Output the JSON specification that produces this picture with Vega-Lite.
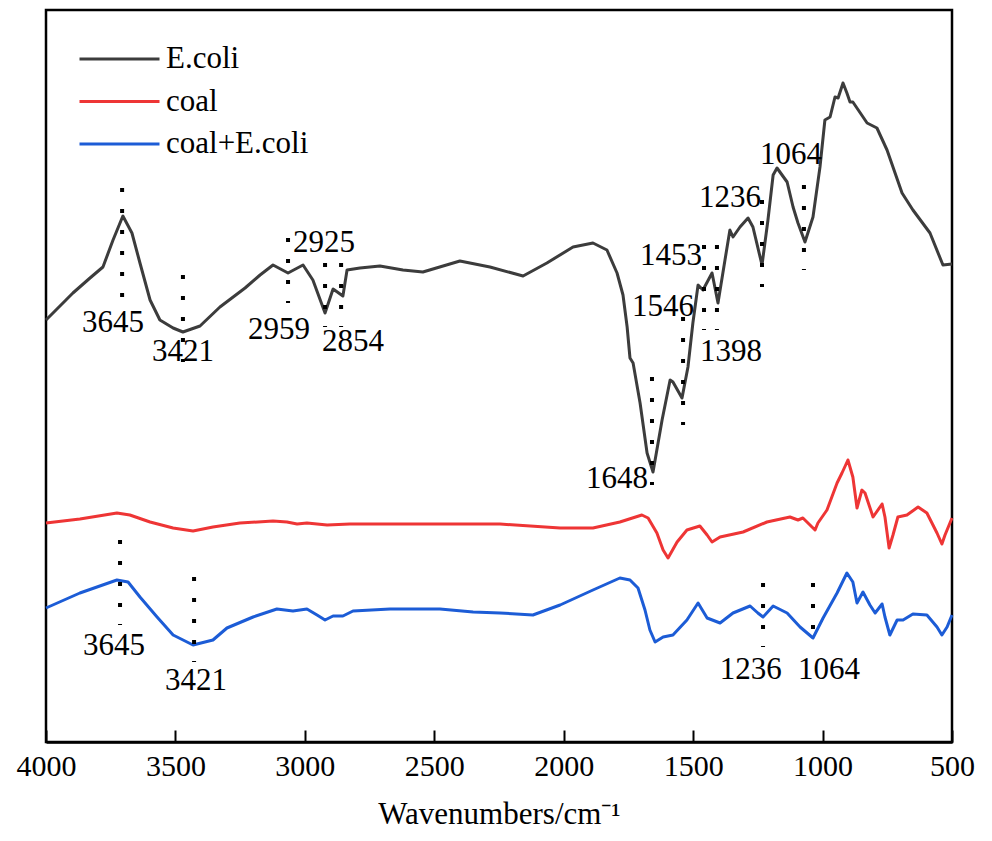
{
  "$schema": "https://vega.github.io/schema/vega-lite/v6.json",
  "width": 906,
  "height": 732,
  "autosize": {"type": "none"},
  "padding": {"left": 46, "top": 10, "right": 40, "bottom": 99},
  "background": "white",
  "config": {
    "view": {"stroke": "black", "strokeWidth": 2.5},
    "font": "Liberation Serif"
  },
  "datasets": {
    "spectra": [
      {"w": 4000, "a": 4.22, "s": "E.coli"},
      {"w": 3896, "a": 4.49, "s": "E.coli"},
      {"w": 3830, "a": 4.64, "s": "E.coli"},
      {"w": 3780, "a": 4.75, "s": "E.coli"},
      {"w": 3741, "a": 5.02, "s": "E.coli"},
      {"w": 3703, "a": 5.26, "s": "E.coli"},
      {"w": 3668, "a": 5.09, "s": "E.coli"},
      {"w": 3637, "a": 4.79, "s": "E.coli"},
      {"w": 3598, "a": 4.42, "s": "E.coli"},
      {"w": 3560, "a": 4.22, "s": "E.coli"},
      {"w": 3509, "a": 4.14, "s": "E.coli"},
      {"w": 3471, "a": 4.10, "s": "E.coli"},
      {"w": 3405, "a": 4.16, "s": "E.coli"},
      {"w": 3328, "a": 4.35, "s": "E.coli"},
      {"w": 3231, "a": 4.54, "s": "E.coli"},
      {"w": 3173, "a": 4.67, "s": "E.coli"},
      {"w": 3123, "a": 4.77, "s": "E.coli"},
      {"w": 3065, "a": 4.69, "s": "E.coli"},
      {"w": 3007, "a": 4.77, "s": "E.coli"},
      {"w": 2969, "a": 4.62, "s": "E.coli"},
      {"w": 2922, "a": 4.29, "s": "E.coli"},
      {"w": 2891, "a": 4.53, "s": "E.coli"},
      {"w": 2853, "a": 4.46, "s": "E.coli"},
      {"w": 2837, "a": 4.72, "s": "E.coli"},
      {"w": 2787, "a": 4.74, "s": "E.coli"},
      {"w": 2710, "a": 4.76, "s": "E.coli"},
      {"w": 2621, "a": 4.72, "s": "E.coli"},
      {"w": 2544, "a": 4.70, "s": "E.coli"},
      {"w": 2401, "a": 4.81, "s": "E.coli"},
      {"w": 2285, "a": 4.75, "s": "E.coli"},
      {"w": 2157, "a": 4.66, "s": "E.coli"},
      {"w": 2065, "a": 4.79, "s": "E.coli"},
      {"w": 1964, "a": 4.95, "s": "E.coli"},
      {"w": 1887, "a": 4.99, "s": "E.coli"},
      {"w": 1833, "a": 4.92, "s": "E.coli"},
      {"w": 1794, "a": 4.69, "s": "E.coli"},
      {"w": 1771, "a": 4.47, "s": "E.coli"},
      {"w": 1755, "a": 4.15, "s": "E.coli"},
      {"w": 1744, "a": 3.84, "s": "E.coli"},
      {"w": 1732, "a": 3.79, "s": "E.coli"},
      {"w": 1705, "a": 3.39, "s": "E.coli"},
      {"w": 1678, "a": 2.89, "s": "E.coli"},
      {"w": 1655, "a": 2.70, "s": "E.coli"},
      {"w": 1620, "a": 3.22, "s": "E.coli"},
      {"w": 1589, "a": 3.62, "s": "E.coli"},
      {"w": 1578, "a": 3.60, "s": "E.coli"},
      {"w": 1543, "a": 3.44, "s": "E.coli"},
      {"w": 1520, "a": 3.75, "s": "E.coli"},
      {"w": 1501, "a": 4.19, "s": "E.coli"},
      {"w": 1481, "a": 4.57, "s": "E.coli"},
      {"w": 1462, "a": 4.52, "s": "E.coli"},
      {"w": 1427, "a": 4.69, "s": "E.coli"},
      {"w": 1404, "a": 4.39, "s": "E.coli"},
      {"w": 1377, "a": 4.82, "s": "E.coli"},
      {"w": 1358, "a": 5.12, "s": "E.coli"},
      {"w": 1346, "a": 5.05, "s": "E.coli"},
      {"w": 1319, "a": 5.15, "s": "E.coli"},
      {"w": 1288, "a": 5.24, "s": "E.coli"},
      {"w": 1269, "a": 5.15, "s": "E.coli"},
      {"w": 1234, "a": 4.77, "s": "E.coli"},
      {"w": 1211, "a": 5.22, "s": "E.coli"},
      {"w": 1191, "a": 5.67, "s": "E.coli"},
      {"w": 1176, "a": 5.74, "s": "E.coli"},
      {"w": 1137, "a": 5.60, "s": "E.coli"},
      {"w": 1114, "a": 5.35, "s": "E.coli"},
      {"w": 1095, "a": 5.19, "s": "E.coli"},
      {"w": 1068, "a": 5.00, "s": "E.coli"},
      {"w": 1037, "a": 5.25, "s": "E.coli"},
      {"w": 1010, "a": 5.75, "s": "E.coli"},
      {"w": 991, "a": 6.22, "s": "E.coli"},
      {"w": 971, "a": 6.25, "s": "E.coli"},
      {"w": 952, "a": 6.45, "s": "E.coli"},
      {"w": 940, "a": 6.44, "s": "E.coli"},
      {"w": 921, "a": 6.59, "s": "E.coli"},
      {"w": 906, "a": 6.49, "s": "E.coli"},
      {"w": 894, "a": 6.40, "s": "E.coli"},
      {"w": 883, "a": 6.40, "s": "E.coli"},
      {"w": 828, "a": 6.19, "s": "E.coli"},
      {"w": 790, "a": 6.14, "s": "E.coli"},
      {"w": 751, "a": 5.92, "s": "E.coli"},
      {"w": 693, "a": 5.49, "s": "E.coli"},
      {"w": 651, "a": 5.32, "s": "E.coli"},
      {"w": 585, "a": 5.09, "s": "E.coli"},
      {"w": 535, "a": 4.77, "s": "E.coli"},
      {"w": 500, "a": 4.78, "s": "E.coli"},

      {"w": 4000, "a": 2.19, "s": "coal"},
      {"w": 3869, "a": 2.23, "s": "coal"},
      {"w": 3726, "a": 2.29, "s": "coal"},
      {"w": 3676, "a": 2.27, "s": "coal"},
      {"w": 3598, "a": 2.20, "s": "coal"},
      {"w": 3509, "a": 2.14, "s": "coal"},
      {"w": 3432, "a": 2.11, "s": "coal"},
      {"w": 3355, "a": 2.15, "s": "coal"},
      {"w": 3251, "a": 2.19, "s": "coal"},
      {"w": 3123, "a": 2.21, "s": "coal"},
      {"w": 3069, "a": 2.20, "s": "coal"},
      {"w": 3030, "a": 2.18, "s": "coal"},
      {"w": 2992, "a": 2.19, "s": "coal"},
      {"w": 2914, "a": 2.17, "s": "coal"},
      {"w": 2826, "a": 2.18, "s": "coal"},
      {"w": 2517, "a": 2.18, "s": "coal"},
      {"w": 2246, "a": 2.18, "s": "coal"},
      {"w": 2014, "a": 2.14, "s": "coal"},
      {"w": 1887, "a": 2.14, "s": "coal"},
      {"w": 1783, "a": 2.20, "s": "coal"},
      {"w": 1698, "a": 2.27, "s": "coal"},
      {"w": 1674, "a": 2.24, "s": "coal"},
      {"w": 1640, "a": 2.09, "s": "coal"},
      {"w": 1616, "a": 1.92, "s": "coal"},
      {"w": 1597, "a": 1.84, "s": "coal"},
      {"w": 1562, "a": 2.00, "s": "coal"},
      {"w": 1524, "a": 2.12, "s": "coal"},
      {"w": 1474, "a": 2.16, "s": "coal"},
      {"w": 1446, "a": 2.07, "s": "coal"},
      {"w": 1427, "a": 2.00, "s": "coal"},
      {"w": 1396, "a": 2.05, "s": "coal"},
      {"w": 1307, "a": 2.10, "s": "coal"},
      {"w": 1215, "a": 2.20, "s": "coal"},
      {"w": 1126, "a": 2.25, "s": "coal"},
      {"w": 1095, "a": 2.22, "s": "coal"},
      {"w": 1076, "a": 2.24, "s": "coal"},
      {"w": 1029, "a": 2.12, "s": "coal"},
      {"w": 1018, "a": 2.19, "s": "coal"},
      {"w": 983, "a": 2.32, "s": "coal"},
      {"w": 944, "a": 2.59, "s": "coal"},
      {"w": 925, "a": 2.69, "s": "coal"},
      {"w": 902, "a": 2.82, "s": "coal"},
      {"w": 883, "a": 2.65, "s": "coal"},
      {"w": 867, "a": 2.34, "s": "coal"},
      {"w": 848, "a": 2.52, "s": "coal"},
      {"w": 836, "a": 2.49, "s": "coal"},
      {"w": 805, "a": 2.25, "s": "coal"},
      {"w": 770, "a": 2.38, "s": "coal"},
      {"w": 759, "a": 2.25, "s": "coal"},
      {"w": 743, "a": 1.94, "s": "coal"},
      {"w": 728, "a": 2.07, "s": "coal"},
      {"w": 709, "a": 2.25, "s": "coal"},
      {"w": 674, "a": 2.27, "s": "coal"},
      {"w": 631, "a": 2.35, "s": "coal"},
      {"w": 597, "a": 2.29, "s": "coal"},
      {"w": 558, "a": 2.09, "s": "coal"},
      {"w": 539, "a": 1.98, "s": "coal"},
      {"w": 527, "a": 2.07, "s": "coal"},
      {"w": 500, "a": 2.24, "s": "coal"},

      {"w": 4000, "a": 1.34, "s": "coal+E.coli"},
      {"w": 3869, "a": 1.49, "s": "coal+E.coli"},
      {"w": 3726, "a": 1.62, "s": "coal+E.coli"},
      {"w": 3683, "a": 1.60, "s": "coal+E.coli"},
      {"w": 3637, "a": 1.45, "s": "coal+E.coli"},
      {"w": 3571, "a": 1.25, "s": "coal+E.coli"},
      {"w": 3509, "a": 1.07, "s": "coal+E.coli"},
      {"w": 3432, "a": 0.97, "s": "coal+E.coli"},
      {"w": 3355, "a": 1.02, "s": "coal+E.coli"},
      {"w": 3301, "a": 1.14, "s": "coal+E.coli"},
      {"w": 3200, "a": 1.25, "s": "coal+E.coli"},
      {"w": 3108, "a": 1.33, "s": "coal+E.coli"},
      {"w": 3046, "a": 1.31, "s": "coal+E.coli"},
      {"w": 2992, "a": 1.33, "s": "coal+E.coli"},
      {"w": 2953, "a": 1.27, "s": "coal+E.coli"},
      {"w": 2922, "a": 1.22, "s": "coal+E.coli"},
      {"w": 2891, "a": 1.26, "s": "coal+E.coli"},
      {"w": 2853, "a": 1.26, "s": "coal+E.coli"},
      {"w": 2814, "a": 1.31, "s": "coal+E.coli"},
      {"w": 2671, "a": 1.33, "s": "coal+E.coli"},
      {"w": 2478, "a": 1.33, "s": "coal+E.coli"},
      {"w": 2350, "a": 1.30, "s": "coal+E.coli"},
      {"w": 2246, "a": 1.29, "s": "coal+E.coli"},
      {"w": 2119, "a": 1.27, "s": "coal+E.coli"},
      {"w": 2014, "a": 1.37, "s": "coal+E.coli"},
      {"w": 1887, "a": 1.52, "s": "coal+E.coli"},
      {"w": 1783, "a": 1.64, "s": "coal+E.coli"},
      {"w": 1744, "a": 1.62, "s": "coal+E.coli"},
      {"w": 1713, "a": 1.54, "s": "coal+E.coli"},
      {"w": 1686, "a": 1.32, "s": "coal+E.coli"},
      {"w": 1667, "a": 1.12, "s": "coal+E.coli"},
      {"w": 1647, "a": 1.00, "s": "coal+E.coli"},
      {"w": 1616, "a": 1.05, "s": "coal+E.coli"},
      {"w": 1578, "a": 1.07, "s": "coal+E.coli"},
      {"w": 1524, "a": 1.22, "s": "coal+E.coli"},
      {"w": 1481, "a": 1.39, "s": "coal+E.coli"},
      {"w": 1446, "a": 1.24, "s": "coal+E.coli"},
      {"w": 1396, "a": 1.19, "s": "coal+E.coli"},
      {"w": 1346, "a": 1.29, "s": "coal+E.coli"},
      {"w": 1280, "a": 1.36, "s": "coal+E.coli"},
      {"w": 1250, "a": 1.29, "s": "coal+E.coli"},
      {"w": 1230, "a": 1.25, "s": "coal+E.coli"},
      {"w": 1191, "a": 1.36, "s": "coal+E.coli"},
      {"w": 1137, "a": 1.29, "s": "coal+E.coli"},
      {"w": 1087, "a": 1.15, "s": "coal+E.coli"},
      {"w": 1037, "a": 1.04, "s": "coal+E.coli"},
      {"w": 998, "a": 1.24, "s": "coal+E.coli"},
      {"w": 944, "a": 1.49, "s": "coal+E.coli"},
      {"w": 906, "a": 1.69, "s": "coal+E.coli"},
      {"w": 883, "a": 1.60, "s": "coal+E.coli"},
      {"w": 867, "a": 1.39, "s": "coal+E.coli"},
      {"w": 844, "a": 1.50, "s": "coal+E.coli"},
      {"w": 817, "a": 1.37, "s": "coal+E.coli"},
      {"w": 797, "a": 1.29, "s": "coal+E.coli"},
      {"w": 770, "a": 1.38, "s": "coal+E.coli"},
      {"w": 759, "a": 1.25, "s": "coal+E.coli"},
      {"w": 740, "a": 1.07, "s": "coal+E.coli"},
      {"w": 712, "a": 1.22, "s": "coal+E.coli"},
      {"w": 689, "a": 1.22, "s": "coal+E.coli"},
      {"w": 651, "a": 1.28, "s": "coal+E.coli"},
      {"w": 597, "a": 1.27, "s": "coal+E.coli"},
      {"w": 558, "a": 1.15, "s": "coal+E.coli"},
      {"w": 539, "a": 1.07, "s": "coal+E.coli"},
      {"w": 519, "a": 1.15, "s": "coal+E.coli"},
      {"w": 500, "a": 1.27, "s": "coal+E.coli"}
    ],
    "markers": [
      {"w": 3706, "top": 5.54, "bottom": 4.45},
      {"w": 3471, "top": 4.67, "bottom": 3.80},
      {"w": 3065, "top": 5.04, "bottom": 4.39},
      {"w": 2922, "top": 4.79, "bottom": 4.15},
      {"w": 2860, "top": 4.79, "bottom": 4.15},
      {"w": 1659, "top": 3.65, "bottom": 2.57},
      {"w": 1539, "top": 4.25, "bottom": 3.17},
      {"w": 1458, "top": 4.97, "bottom": 4.12},
      {"w": 1408, "top": 4.97, "bottom": 4.12},
      {"w": 1234, "top": 5.42, "bottom": 4.55},
      {"w": 1072, "top": 5.57, "bottom": 4.72},
      {"w": 3714, "top": 2.02, "bottom": 1.17},
      {"w": 3428, "top": 1.65, "bottom": 0.80},
      {"w": 1230, "top": 1.59, "bottom": 0.95},
      {"w": 1037, "top": 1.59, "bottom": 0.97}
    ],
    "labels": [
      {"w": 3741, "a": 4.19, "t": "3645"},
      {"w": 3471, "a": 3.90, "t": "3421"},
      {"w": 3100, "a": 4.12, "t": "2959"},
      {"w": 2926, "a": 4.99, "t": "2925"},
      {"w": 2814, "a": 4.00, "t": "2854"},
      {"w": 1794, "a": 2.63, "t": "1648"},
      {"w": 1616, "a": 4.35, "t": "1546"},
      {"w": 1586, "a": 4.86, "t": "1453"},
      {"w": 1354, "a": 3.90, "t": "1398"},
      {"w": 1358, "a": 5.44, "t": "1236"},
      {"w": 1122, "a": 5.87, "t": "1064"},
      {"w": 3737, "a": 0.96, "t": "3645"},
      {"w": 3421, "a": 0.61, "t": "3421"},
      {"w": 1277, "a": 0.72, "t": "1236"},
      {"w": 975, "a": 0.72, "t": "1064"}
    ]
  },
  "layer": [
    {
      "data": {"name": "spectra"},
      "mark": {"type": "line", "strokeWidth": 3, "strokeJoin": "round"},
      "encoding": {
        "x": {
          "field": "w",
          "type": "quantitative",
          "scale": {"domain": [500, 4000], "reverse": true, "nice": false, "zero": false},
          "axis": {
            "title": "Wavenumbers/cm⁻¹",
            "values": [4000, 3500, 3000, 2500, 2000, 1500, 1000, 500],
            "format": "d",
            "grid": false,
            "domain": true,
            "domainColor": "black",
            "domainWidth": 2.5,
            "ticks": true,
            "tickSize": -12,
            "tickWidth": 2,
            "tickColor": "black",
            "labelFlush": false,
            "labelFont": "Liberation Serif",
            "labelFontSize": 30,
            "labelColor": "black",
            "labelPadding": 21,
            "labelOverlap": false,
            "titleFont": "Liberation Serif",
            "titleFontSize": 31,
            "titleFontWeight": "normal",
            "titleColor": "black",
            "titlePadding": 18
          }
        },
        "y": {
          "field": "a",
          "type": "quantitative",
          "scale": {"domain": [0, 7.32], "nice": false, "zero": false},
          "axis": null
        },
        "color": {
          "field": "s",
          "type": "nominal",
          "scale": {
            "domain": ["E.coli", "coal", "coal+E.coli"],
            "range": ["#3c3c3c", "#ee3535", "#1c5cd6"]
          },
          "legend": {
            "title": null,
            "orient": "none",
            "legendX": 32,
            "legendY": 33,
            "padding": 0,
            "symbolType": "stroke",
            "symbolSize": 6400,
            "symbolStrokeWidth": 3,
            "labelFont": "Liberation Serif",
            "labelFontSize": 31,
            "labelColor": "black",
            "labelOffset": 5,
            "labelLimit": 400,
            "clipHeight": 32,
            "rowPadding": 10.5
          }
        },
        "order": {"field": "w", "type": "quantitative"}
      }
    },
    {
      "data": {"name": "markers"},
      "mark": {"type": "rule", "color": "black", "strokeWidth": 4, "strokeDash": [4, 17]},
      "encoding": {
        "x": {"field": "w", "type": "quantitative"},
        "y": {"field": "top", "type": "quantitative"},
        "y2": {"field": "bottom"}
      }
    },
    {
      "data": {"name": "labels"},
      "mark": {"type": "text", "font": "Liberation Serif", "fontSize": 31, "color": "black", "align": "center", "baseline": "middle"},
      "encoding": {
        "x": {"field": "w", "type": "quantitative"},
        "y": {"field": "a", "type": "quantitative"},
        "text": {"field": "t"}
      }
    }
  ]
}
